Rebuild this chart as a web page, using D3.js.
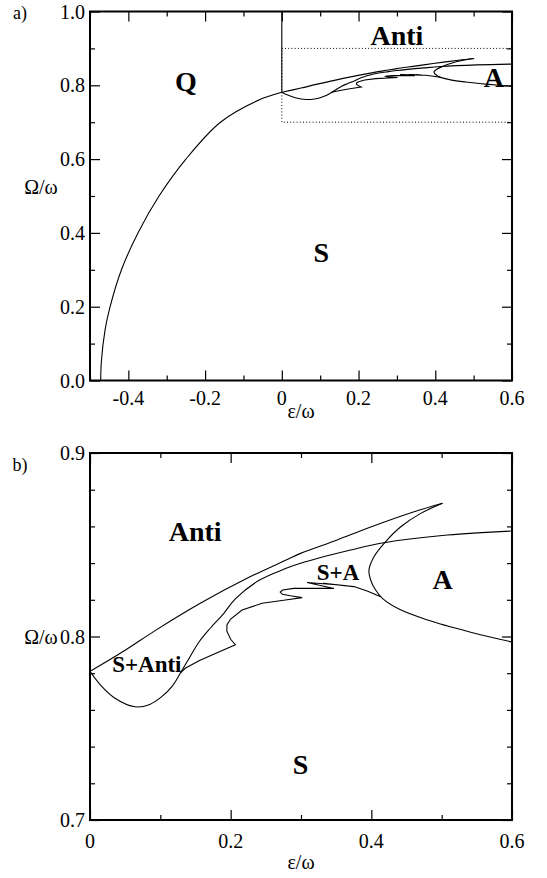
<!DOCTYPE html>
<html>
<head>
<meta charset="utf-8">
<script src="https://cdn.jsdelivr.net/npm/d3@7"></script>
<style>
  html, body { margin: 0; padding: 0; background: #fff; }
  svg { display: block; }
</style>
</head>
<body>
<svg id="chart" width="547" height="878"></svg>
<script>
// ---------------- DATA (epsilon/omega, Omega/omega) ----------------
// Q / S boundary (panel a only)
const qsBoundary = [[-0.472,0],[-0.4705,0.05],[-0.4606,0.138],[-0.4476,0.2],[-0.418,0.3],
  [-0.375,0.4],[-0.32,0.5],[-0.25,0.6],[-0.16,0.7],[-0.06,0.76],[0,0.781]];
// upper line from (0,0.781) up to the tip
const upperLine = [[0,0.781],[0.05,0.7925],[0.0926,0.8032],[0.1568,0.8181],[0.2233,0.8317],
  [0.2779,0.8415],[0.2993,0.8453],[0.3515,0.8526],[0.3943,0.859],[0.4608,0.868],[0.5012,0.8726]];
// A-region boundary from the tip down to the right edge
const aBoundary = [[0.5012,0.8726],[0.4703,0.8671],[0.4418,0.8598],[0.4204,0.8517],[0.4038,0.8435],
  [0.3966,0.8362],[0.399,0.8308],[0.4061,0.8253],[0.4157,0.8208],[0.44,0.8148],[0.4798,0.809],
  [0.54,0.8025],[0.6,0.797]];
// lower dip (S+Anti)
const dipCurve = [[0,0.781],[0.015,0.7735],[0.035,0.7665],[0.0641,0.7617],[0.085,0.763],
  [0.102,0.7672],[0.117,0.773],[0.1283,0.780]];
// lower Anti boundary
const antiBoundary = [[0.1283,0.780],[0.14,0.7875],[0.155,0.797],[0.171,0.8045],[0.19,0.8125],
  [0.2066,0.8205],[0.2399,0.8305],[0.2779,0.837],[0.2993,0.8399],[0.3705,0.8471],[0.4133,0.8508],
  [0.5083,0.8553],[0.6,0.8575]];
// S / S+A boundary with tongues
const hookCurve = [[0.1283,0.780],[0.1354,0.7827],[0.155,0.7868],[0.1734,0.7899],[0.2067,0.7955],[0.2,0.7985],
  [0.1945,0.803],[0.1948,0.8065],[0.2,0.8095],[0.2162,0.8144],[0.2447,0.8181],[0.2779,0.8199],
  [0.3017,0.8212],[0.285,0.8222],[0.2735,0.823],[0.2705,0.8242],[0.274,0.8253],[0.2898,0.8262],[0.3468,0.8262],
  [0.3088,0.8294],[0.355,0.8281],[0.332,0.829],[0.365,0.8276],[0.35,0.8282],[0.3752,0.8272],
  [0.395,0.8247],[0.4133,0.8217]];
// dotted zoom box in panel a
const zoomBoxEps = [0, 0.6];
const zoomBoxOmega = [0.7, 0.9];

// axes / ticks
const xTicksA = [-0.4,-0.2,0,0.2,0.4,0.6];
const xTickLabelsA = ["-0.4","-0.2","0","0.2","0.4","0.6"];
const xMinorA = [-0.5,-0.3,-0.1,0.1,0.3,0.5];
const yTicksA = [0,0.2,0.4,0.6,0.8,1.0];
const yTickLabelsA = ["0.0","0.2","0.4","0.6","0.8","1.0"];
const yMinorA = [0.1,0.3,0.5,0.7,0.9];
const xTicksB = [0,0.2,0.4,0.6];
const xTickLabelsB = ["0","0.2","0.4","0.6"];
const xMinorB = [0.1,0.3,0.5];
const yTicksB = [0.7,0.8,0.9];
const yTickLabelsB = ["0.7","0.8","0.9"];
const yMinorB = [0.72,0.74,0.76,0.78,0.82,0.84,0.86,0.88];

// region labels
const labelsA = [{t:"Q",e:-0.25,o:0.81},{t:"S",e:0.103,o:0.348},{t:"Anti",e:0.30,o:0.936},{t:"A",e:0.553,o:0.822}];
const labelsB = [{t:"Anti",e:0.1496,o:0.857,s:28},{t:"S+Anti",e:0.0808,o:0.7845,s:23},
  {t:"S+A",e:0.3527,o:0.835,s:23},{t:"A",e:0.5012,o:0.8308,s:28},{t:"S",e:0.2993,o:0.73,s:28}];

// ---------------- DRAW ----------------
const FONT = "'Liberation Serif', 'Times New Roman', Times, serif";
const svg = d3.select("#chart").attr("font-family", FONT);
const L = 90, R = 512;

function txt(g, x, y, s, size, anchor, bold) {
  return g.append("text").attr("x", x).attr("y", y).attr("text-anchor", anchor)
    .attr("dominant-baseline", "central").attr("font-family", FONT).attr("font-size", size)
    .attr("font-weight", bold ? "bold" : "normal").attr("fill", "#000").text(s);
}

function panel(cfg) {
  const x = d3.scaleLinear().domain(cfg.xDom).range([L, R]);
  const y = d3.scaleLinear().domain(cfg.yDom).range([cfg.bottom, cfg.top]);
  const g = svg.append("g");
  const clipId = "clip" + cfg.id;
  svg.append("clipPath").attr("id", clipId).append("rect")
    .attr("x", L).attr("y", cfg.top).attr("width", R - L).attr("height", cfg.bottom - cfg.top);
  const cg = g.append("g").attr("clip-path", `url(#${clipId})`);
  const lineLin = d3.line().x(d => x(d[0])).y(d => y(d[1]));
  const lineSmooth = d3.line().x(d => x(d[0])).y(d => y(d[1])).curve(d3.curveCatmullRom.alpha(0.5));

  if (cfg.extra) cfg.extra(cg, x, y, lineSmooth);

  [upperLine, aBoundary, dipCurve, antiBoundary].forEach(d =>
    cg.append("path").attr("d", lineSmooth(d)).attr("fill","none").attr("stroke","#000").attr("stroke-width",1.1));
  cg.append("path").attr("d", lineLin(hookCurve)).attr("fill","none").attr("stroke","#000")
    .attr("stroke-width",1.1).attr("stroke-linejoin","miter");

  // axes: major + minor ticks, inward, mirrored
  const mk = (axisFn, scale, vals, size) => axisFn(scale).tickValues(vals).tickSize(-size).tickFormat("");
  const addAxis = (axis, tx, ty) => {
    const a = g.append("g").attr("transform", `translate(${tx},${ty})`).call(axis);
    a.select(".domain").remove();
    a.selectAll(".tick line").attr("stroke","#000").attr("stroke-width",1.2);
    return a;
  };
  addAxis(mk(d3.axisBottom, x, cfg.xMajor, 10), 0, cfg.bottom);
  addAxis(mk(d3.axisBottom, x, cfg.xMinor, 5), 0, cfg.bottom);
  addAxis(mk(d3.axisTop, x, cfg.xMajor, 10), 0, cfg.top);
  addAxis(mk(d3.axisTop, x, cfg.xMinor, 5), 0, cfg.top);
  addAxis(mk(d3.axisLeft, y, cfg.yMajor, 10), L, 0);
  addAxis(mk(d3.axisLeft, y, cfg.yMinor, 5), L, 0);
  addAxis(mk(d3.axisRight, y, cfg.yMajor, 10), R, 0);
  addAxis(mk(d3.axisRight, y, cfg.yMinor, 5), R, 0);

  g.append("rect").attr("x", L).attr("y", cfg.top).attr("width", R - L).attr("height", cfg.bottom - cfg.top)
    .attr("fill","none").attr("stroke","#000").attr("stroke-width",2);

  // tick labels
  cfg.xMajor.forEach((v, i) => txt(g, x(v), cfg.bottom + cfg.xLabOff, cfg.xLabels[i], 20, "middle"));
  cfg.yMajor.forEach((v, i) => txt(g, L - 5, y(v), cfg.yLabels[i], 20, "end"));

  // axis titles
  txt(g, 301, cfg.bottom + cfg.titleOff, "ε/ω", 20, "middle");
  txt(g, 41, cfg.yTitleY, "Ω/ω", 20, "middle");
  txt(g, 20, cfg.tagY, cfg.tag, 18, "middle");

  // region labels
  cfg.labels.forEach(d => txt(g, x(d.e), y(d.o), d.t, d.s || 28, "middle", true));
}

panel({
  id: "a", xDom: [-0.5, 0.6], yDom: [0, 1], top: 11.5, bottom: 380.5,
  xMajor: xTicksA, xMinor: xMinorA, yMajor: yTicksA, yMinor: yMinorA,
  xLabels: xTickLabelsA, yLabels: yTickLabelsA, xLabOff: 17, titleOff: 30, yTitleY: 187, tag: "a)", tagY: 13,
  labels: labelsA,
  extra: (cg, x, y, lineSmooth) => {
    // dotted zoom box
    cg.append("rect").attr("x", x(zoomBoxEps[0])).attr("y", y(zoomBoxOmega[1]))
      .attr("width", x(zoomBoxEps[1]) - x(zoomBoxEps[0])).attr("height", y(zoomBoxOmega[0]) - y(zoomBoxOmega[1]))
      .attr("fill","none").attr("stroke","#000").attr("stroke-width",1).attr("stroke-dasharray","1,2.2");
    // solid vertical line at eps = 0 above the triple point
    cg.append("line").attr("x1", x(0)).attr("x2", x(0)).attr("y1", y(qsBoundary[qsBoundary.length-1][1])).attr("y2", y(1))
      .attr("stroke","#000").attr("stroke-width",1.1);
    cg.append("path").attr("d", lineSmooth(qsBoundary)).attr("fill","none").attr("stroke","#000").attr("stroke-width",1.1);
  }
});

panel({
  id: "b", xDom: [0, 0.6], yDom: [0.7, 0.9], top: 453, bottom: 820,
  xMajor: xTicksB, xMinor: xMinorB, yMajor: yTicksB, yMinor: yMinorB,
  xLabels: xTickLabelsB, yLabels: yTickLabelsB, xLabOff: 21, titleOff: 42, yTitleY: 637, tag: "b)", tagY: 465,
  labels: labelsB
});
</script>
</body>
</html>
